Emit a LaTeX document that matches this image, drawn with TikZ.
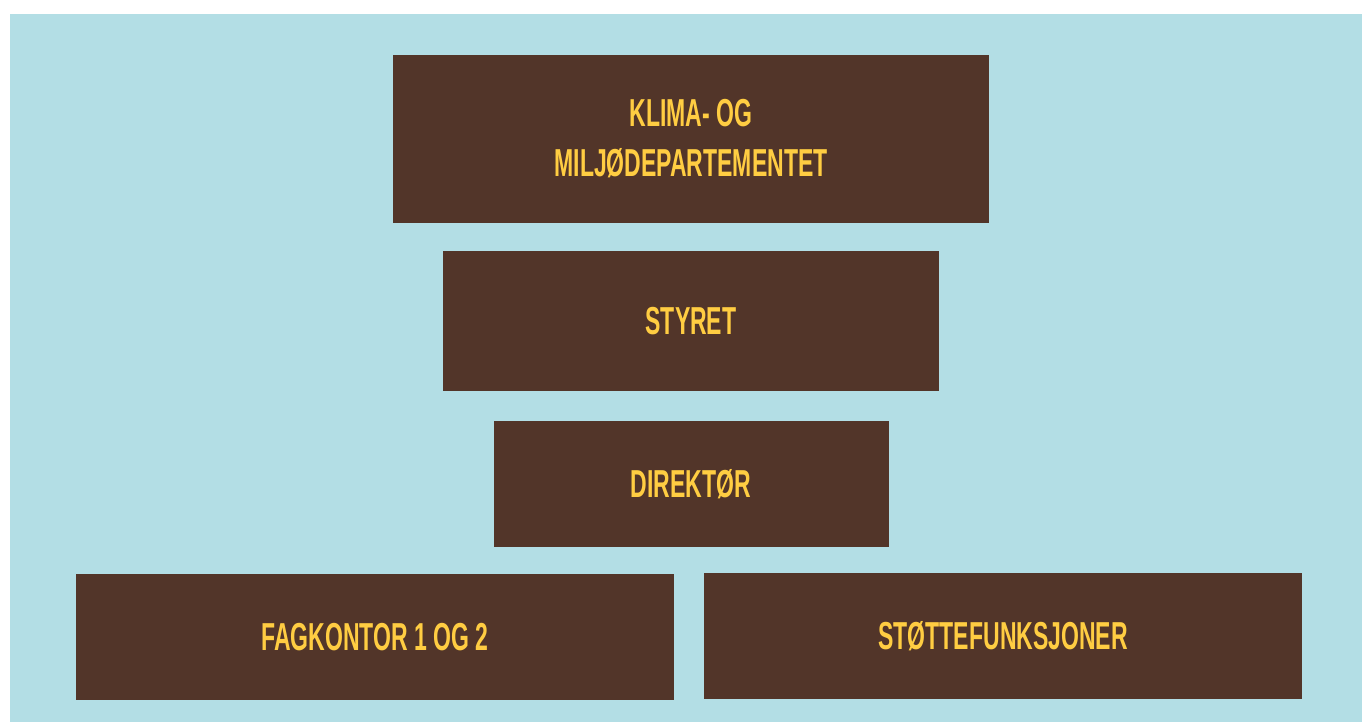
\documentclass[tikz,border=0pt]{standalone}
\usepackage{fontspec}
\setmainfont{Liberation Sans}[FakeStretch=0.59]
\usetikzlibrary{positioning}
\definecolor{bgblue}{RGB}{179,222,229}
\definecolor{unitbrown}{RGB}{82,53,41}
\definecolor{unityellow}{RGB}{255,205,66}

\begin{document}
\begin{tikzpicture}[x=1pt,y=1pt,node distance=28pt,
    unit/.style={fill=unitbrown,text=unityellow,inner sep=0pt,align=center,
      font=\fontsize{39}{50}\selectfont\bfseries,minimum height=126pt}]
    \useasboundingbox (0,0) rectangle (1362,-722);
    \fill[bgblue] (10,-14) rectangle (1362,-722);

    \node[unit,minimum width=596pt,minimum height=168pt] (kld) at (691,-139) {KLIMA- OG\\MILJØDEPARTEMENTET};
    \node[unit,minimum width=496pt,minimum height=140pt] (styret) [below=of kld] {STYRET};
    \node[unit,minimum width=395pt] (dir) [below=29pt of styret] {DIREKTØR};
    \node[unit,minimum width=598pt] (fag) [below left=27pt and 17pt of dir.south] {FAGKONTOR 1 OG 2};
    \node[unit,minimum width=598pt] (stotte) [below right=26pt and 13pt of dir.south] {STØTTEFUNKSJONER};
    \end{tikzpicture}
\end{document}
